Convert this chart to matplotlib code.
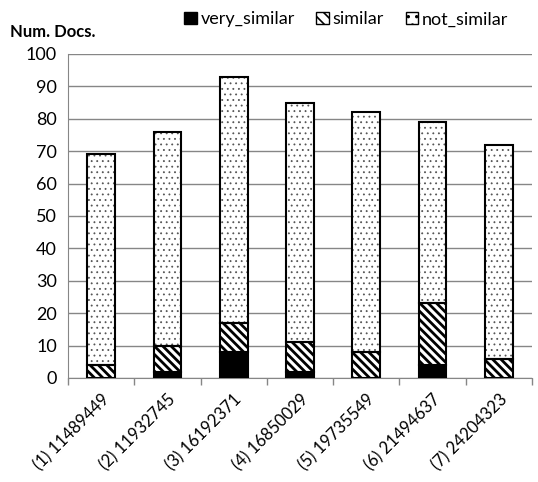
import matplotlib
matplotlib.use("Agg")
import matplotlib.pyplot as plt
from matplotlib.patches import Patch
import numpy as np

plt.rcParams['font.family'] = ['Lato', 'DejaVu Sans']

categories = ["(1) 11489449", "(2) 11932745", "(3) 16192371", "(4) 16850029",
              "(5) 19735549", "(6) 21494637", "(7) 24204323"]
very_similar = [0, 2, 8, 2, 0, 4, 0]
similar = [4, 8, 9, 9, 8, 19, 6]
not_similar = [65, 66, 76, 74, 74, 56, 66]
yticks = [0, 10, 20, 30, 40, 50, 60, 70, 80, 90, 100]

fig = plt.figure(figsize=(5.38, 4.82), dpi=100)
ax = fig.add_axes([68/538, 1-378/482, 464/538, 324/482])

x = np.arange(len(categories))
w = 0.42
vs = np.array(very_similar)
si = np.array(similar)
ns = np.array(not_similar)

DIAG = '\\\\\\\\'
DOTS = '...'

ax.bar(x, vs, w, color='black', edgecolor='black', linewidth=1.5, zorder=3)
plt.rcParams['hatch.linewidth'] = 2.0
ax.bar(x, si, w, bottom=vs, color='white', edgecolor='black', hatch=DIAG, linewidth=0, zorder=3)
ax.bar(x, si, w, bottom=vs, fill=False, edgecolor='black', linewidth=1.5, zorder=4)
plt.rcParams['hatch.linewidth'] = 0.6
ax.bar(x, ns, w, bottom=vs+si, color='white', edgecolor='#555555', hatch=DOTS, linewidth=0, zorder=3)
ax.bar(x, ns, w, bottom=vs+si, fill=False, edgecolor='black', linewidth=1.5, zorder=4)

ax.set_xlim(-0.5, len(categories)-0.5)
ax.set_ylim(0, 100)
ax.set_yticks(yticks)
ax.yaxis.grid(True, color='#868686', linewidth=1)
ax.set_axisbelow(True)
ax.tick_params(axis='y', length=0, labelsize=13, pad=8)
ax.set_xticks(x)
ax.set_xticklabels(categories, rotation=45, ha='right', rotation_mode='anchor', fontsize=12)
ax.tick_params(axis='x', length=0, pad=10)
ax.set_xticks(np.arange(-0.5, len(categories)), minor=True)
ax.tick_params(axis='x', which='minor', length=5, color='#868686', width=1)
for s in ['top', 'right']:
    ax.spines[s].set_visible(False)
for s in ['left', 'bottom']:
    ax.spines[s].set_color('#868686')

fig.text(10/538, 1-32/482, "Num. Docs.", fontweight='bold', fontsize=12, va='center', ha='left')

plt.rcParams['hatch.linewidth'] = 1.2
handles = [Patch(facecolor='black', edgecolor='black', label='very_similar'),
           Patch(facecolor='white', edgecolor='black', hatch='\\\\\\', label='similar'),
           Patch(facecolor='white', edgecolor='black', hatch='..', label='not_similar')]
fig.legend(handles=handles, ncol=3, loc='upper right', bbox_to_anchor=(0.975, 1.01),
           frameon=False, fontsize=13, handlelength=0.7, handleheight=0.7,
           handletextpad=0.2, columnspacing=1.2)

fig.savefig("out.png", dpi=100)
